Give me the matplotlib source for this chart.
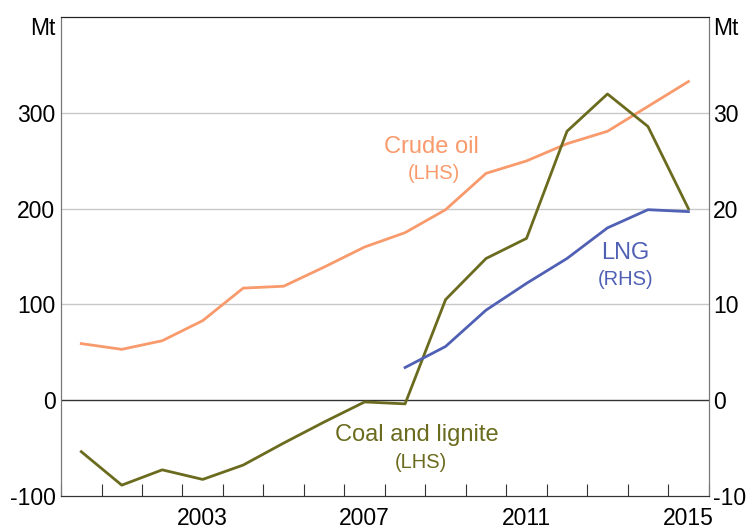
import numpy as np
import matplotlib.pyplot as plt

# data (annual, plotted at mid-year)
years = list(range(2000, 2016))
crude_oil = [59, 53, 62, 83, 117, 119, 139, 160, 175, 199, 237, 250, 268, 281, 307, 333]
coal = [-54, -89, -73, -83, -68, -45, -23, -2, -4, 105, 148, 169, 281, 320, 286, 200]
lng_years = list(range(2008, 2016))
lng = [3.4, 5.6, 9.4, 12.2, 14.8, 18.0, 19.9, 19.7]

left_ticks = [-100, 0, 100, 200, 300]
right_ticks = [-10, 0, 10, 20, 30]
year_labels = ["2003", "2007", "2011", "2015"]

c_oil = "#F89A6C"
c_coal = "#6B6B1F"
c_lng = "#5060B4"

plt.rcParams['font.family'] = ['Liberation Sans', 'DejaVu Sans']

fig = plt.figure(figsize=(7.47, 5.29), dpi=100)
ax = fig.add_axes([0.0817, 0.063, 0.867, 0.904])
ax2 = ax.twinx()

x = np.array(years) + 0.5
ax.plot(x, crude_oil, color=c_oil, lw=2)
ax.plot(x, coal, color=c_coal, lw=2)
ax2.plot(np.array(lng_years) + 0.5, lng, color=c_lng, lw=2)

ax.set_xlim(2000, 2016)
ax.set_ylim(-100, 400)
ax2.set_ylim(-10, 40)

# gridlines
for v in [100, 200, 300]:
    ax.axhline(v, color="#c8c8c8", lw=1, zorder=0)
ax.axhline(0, color="#333333", lw=1, zorder=0)

# x ticks at year boundaries, labels at mid-year
ax.set_xticks(range(2000, 2017))
ax.set_xticklabels([])
ax.tick_params(axis="x", direction="in", length=9, color="#333333")
for lab in year_labels:
    ax.text(int(lab) + 0.5, -112, lab, ha="center", va="top", fontsize=16.5)

ax.set_yticks(left_ticks + [400])
ax.set_yticklabels([str(t) for t in left_ticks] + ["Mt"], fontsize=16.5)
ax.tick_params(axis="y", length=0, pad=4)
ax2.set_yticks(right_ticks + [40])
ax2.set_yticklabels([str(t) for t in right_ticks] + ["Mt"], fontsize=16.5)
ax2.tick_params(axis="y", length=0, pad=3)
labs = ax.get_yticklabels()
labs[-1].set_va("top")
labs = ax2.get_yticklabels()
labs[-1].set_va("top")

for a in (ax, ax2):
    a.spines["left"].set_color("#777777")
    a.spines["right"].set_color("#777777")
    a.spines["top"].set_color("#222222")
    a.spines["bottom"].set_color("#333333")

# series labels
ax.text(2009.15, 265, "Crude oil", color=c_oil, ha="center", va="center", fontsize=17)
ax.text(2009.2, 237, "(LHS)", color=c_oil, ha="center", va="center", fontsize=14.5)
ax.text(2013.95, 154, "LNG", color=c_lng, ha="center", va="center", fontsize=17)
ax.text(2013.95, 126, "(RHS)", color=c_lng, ha="center", va="center", fontsize=14.5)
ax.text(2008.8, -37, "Coal and lignite", color=c_coal, ha="center", va="center", fontsize=17)
ax.text(2008.9, -65, "(LHS)", color=c_coal, ha="center", va="center", fontsize=14.5)

fig.savefig("out.png", dpi=100)
